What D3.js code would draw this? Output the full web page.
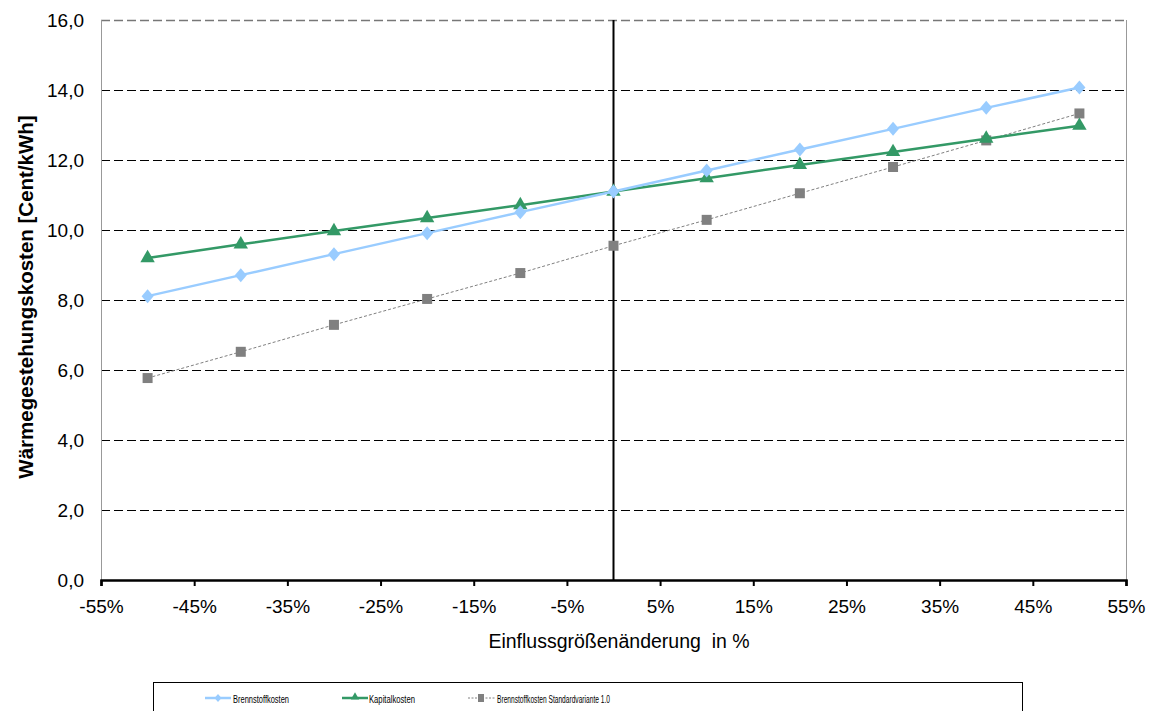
<!DOCTYPE html>
<html><head><meta charset="utf-8">
<script src="https://cdn.jsdelivr.net/npm/d3@7"></script>
<style>body{margin:0;background:#fff}svg{display:block;font-family:"Liberation Sans",Arial,sans-serif}</style>
</head><body><svg id="c" width="1152" height="711"></svg>
<script>
const xValues = [-50,-40,-30,-20,-10,0,10,20,30,40,50];
const brennstoff = [8.11,8.71,9.31,9.91,10.51,11.1,11.7,12.3,12.89,13.49,14.07];
const kapital = [9.2,9.59,9.97,10.34,10.71,11.1,11.48,11.86,12.23,12.61,12.98];
const standard = [5.77,6.52,7.29,8.03,8.77,9.55,10.29,11.05,11.8,12.56,13.33];
const xTicks = [-55,-45,-35,-25,-15,-5,5,15,25,35,45,55];
const yTicks = [0,2,4,6,8,10,12,14,16];
const seriesNames = ["Brennstoffkosten","Kapitalkosten","Brennstoffkosten Standardvariante 1.0"];

const svg = d3.select("#c");
const L=101,R=1126,T=20,B=580;
const x = d3.scaleLinear().domain([-55,55]).range([L,R]);
const y = d3.scaleLinear().domain([0,16]).range([B,T]);

// gridlines
svg.append("g").selectAll("line").data(yTicks.filter(d=>d>0&&d<16)).join("line")
  .attr("x1",L).attr("x2",R).attr("y1",d=>y(d)+0.5).attr("y2",d=>y(d)+0.5)
  .attr("stroke","#000").attr("stroke-width",1).attr("stroke-dasharray","9,4");
// top border dashed gray
svg.append("line").attr("x1",L).attr("x2",R).attr("y1",T+0.5).attr("y2",T+0.5)
  .attr("stroke","#777").attr("stroke-width",1.5).attr("stroke-dasharray","9,4");
// right border
svg.append("line").attr("x1",R+0.5).attr("x2",R+0.5).attr("y1",T).attr("y2",B).attr("stroke","#999").attr("stroke-width",1);
// left axis
svg.append("line").attr("x1",L+0.5).attr("x2",L+0.5).attr("y1",T).attr("y2",B).attr("stroke","#999").attr("stroke-width",1);

// y labels
svg.append("g").selectAll("text").data(yTicks).join("text")
  .attr("x",84).attr("y",d=>y(d)+7).attr("text-anchor","end")
  .attr("font-size",19).text(d=>d.toFixed(1).replace(".",","));

// x axis
const xAxis = d3.axisBottom(x).tickValues(xTicks).tickFormat(d=>d+"%").tickSize(6).tickPadding(0);
const gx = svg.append("g").attr("transform",`translate(0,${B})`).call(xAxis);
gx.select(".domain").attr("stroke","#000").attr("stroke-width",2.5);
gx.selectAll(".tick line").attr("stroke","#000").attr("stroke-width",2);
gx.selectAll(".tick text").attr("font-size",19).attr("font-family","Liberation Sans, Arial, sans-serif")
  .attr("fill","#000").attr("dy",null).attr("y",33);

// zero vertical line
svg.append("line").attr("x1",x(0)).attr("x2",x(0)).attr("y1",T).attr("y2",B).attr("stroke","#000").attr("stroke-width",2);

// titles
svg.append("text").attr("x",619).attr("y",648).attr("text-anchor","middle").attr("font-size",19.5)
  .attr("xml:space","preserve").style("white-space","pre").text("Einflussgrößenänderung  in %");
svg.append("text").attr("transform","translate(33,297) rotate(-90)").attr("text-anchor","middle")
  .attr("font-size",20.5).attr("font-weight","bold").text("Wärmegestehungskosten [Cent/kWh]");

const line = d3.line().x((d,i)=>x(xValues[i])).y(d=>y(d));
// standard series
svg.append("path").datum(standard).attr("d",line).attr("fill","none").attr("stroke","#808080").attr("stroke-width",1).attr("stroke-dasharray","3,2");
svg.append("g").selectAll("rect").data(standard).join("rect")
  .attr("x",(d,i)=>x(xValues[i])-5).attr("y",d=>y(d)-5).attr("width",10).attr("height",10).attr("fill","#808080");
// kapital
svg.append("path").datum(kapital).attr("d",line).attr("fill","none").attr("stroke","#339966").attr("stroke-width",2.5);
const tri = d3.symbol().type(d3.symbolTriangle).size(90);
svg.append("g").selectAll("path").data(kapital).join("path")
  .attr("d",tri).attr("transform",(d,i)=>`translate(${x(xValues[i])},${y(d)})`).attr("fill","#339966");
// brennstoff
svg.append("path").datum(brennstoff).attr("d",line).attr("fill","none").attr("stroke","#99ccff").attr("stroke-width",2.5);
svg.append("g").selectAll("path").data(brennstoff).join("path")
  .attr("d","M0,-7L6,0L0,7L-6,0Z").attr("transform",(d,i)=>`translate(${x(xValues[i])},${y(d)})`).attr("fill","#99ccff");

// legend
svg.append("rect").attr("x",153.5).attr("y",682.5).attr("width",869).attr("height",40).attr("fill","#fff").attr("stroke","#000").attr("stroke-width",1);
const lg = svg.append("g");
const lfs = 11.5;
// item 1
lg.append("line").attr("x1",205).attr("x2",231).attr("y1",698).attr("y2",698).attr("stroke","#99ccff").attr("stroke-width",2.5);
lg.append("path").attr("d","M0,-4L3.5,0L0,4L-3.5,0Z").attr("transform","translate(218,698)").attr("fill","#99ccff");
lg.append("text").attr("x",233).attr("y",703).attr("font-size",lfs).attr("textLength",56).attr("lengthAdjust","spacingAndGlyphs").text(seriesNames[0]);
// item 2
lg.append("line").attr("x1",342).attr("x2",368).attr("y1",698).attr("y2",698).attr("stroke","#339966").attr("stroke-width",2.5);
lg.append("path").attr("d",d3.symbol().type(d3.symbolTriangle).size(30)).attr("transform","translate(355,697)").attr("fill","#339966");
lg.append("text").attr("x",369).attr("y",703).attr("font-size",lfs).attr("textLength",46).attr("lengthAdjust","spacingAndGlyphs").text(seriesNames[1]);
// item 3
lg.append("line").attr("x1",468).attr("x2",495).attr("y1",698).attr("y2",698).attr("stroke","#808080").attr("stroke-width",1).attr("stroke-dasharray","2,1.5");
lg.append("rect").attr("x",478).attr("y",694).attr("width",6).attr("height",8).attr("fill","#808080");
lg.append("text").attr("x",497).attr("y",703).attr("font-size",lfs).attr("textLength",113).attr("lengthAdjust","spacingAndGlyphs").text(seriesNames[2]);
</script></body></html>
